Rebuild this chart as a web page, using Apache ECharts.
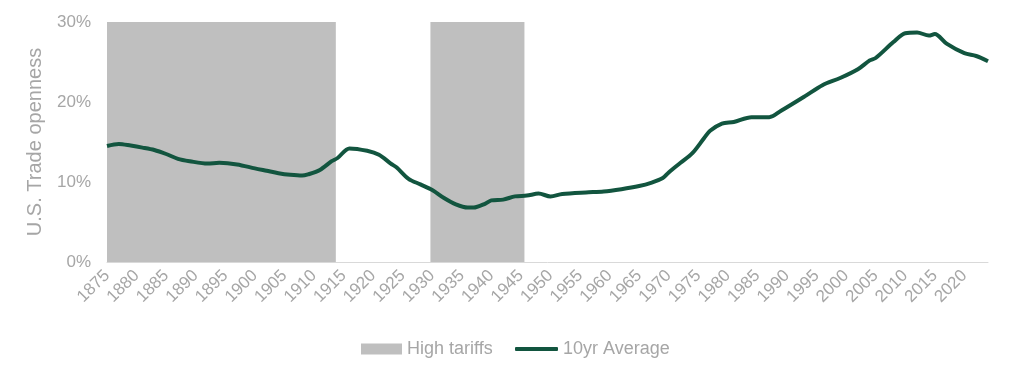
<!DOCTYPE html>
<html>
<head>
<meta charset="utf-8">
<script src="https://cdn.jsdelivr.net/npm/echarts@6/dist/echarts.min.js"></script>
<style>
  html, body { margin: 0; padding: 0; background: #fff; }
  #chart { width: 1024px; height: 375px; }
</style>
</head>
<body>
<div id="chart"></div>
<script>
// data
var years = [1875, 1877, 1879, 1881, 1883, 1885, 1887, 1889, 1892, 1894, 1897, 1900, 1902, 1904, 1906, 1908, 1909, 1911, 1913, 1914,
  1916, 1919, 1921, 1923, 1924, 1926, 1928, 1930, 1932, 1934, 1936, 1937, 1939, 1940, 1942, 1944, 1946, 1948, 1950, 1952,
  1956, 1959, 1962, 1965, 1967, 1969, 1970, 1972, 1974, 1976, 1977, 1979, 1981, 1984, 1987, 1989, 1993, 1996, 1999, 2002,
  2004, 2005, 2008, 2010, 2012, 2014, 2015, 2017, 2020, 2022, 2024];
var avg10yr = [14.5, 14.75, 14.55, 14.3, 14.0, 13.5, 12.9, 12.6, 12.3, 12.4, 12.2, 11.7, 11.4, 11.1, 10.9, 10.8, 10.95, 11.5, 12.6, 13.0,
  14.2, 13.9, 13.4, 12.3, 11.8, 10.4, 9.7, 9.0, 8.0, 7.2, 6.8, 6.8, 7.3, 7.7, 7.8, 8.2, 8.3, 8.55, 8.2, 8.5,
  8.7, 8.8, 9.1, 9.5, 9.9, 10.5, 11.2, 12.4, 13.6, 15.5, 16.4, 17.3, 17.5, 18.1, 18.1, 18.9, 20.7, 22.1, 23.0, 24.1,
  25.2, 25.5, 27.5, 28.6, 28.7, 28.3, 28.5, 27.3, 26.1, 25.75, 25.1];
var tariffPeriods = [[1875, 1913.7], [1929.7, 1945.6]];
var yTicks = [0, 10, 20, 30];

var grey = '#A6A6A6';
var green = '#12553F';
var font = 'Liberation Sans, Arial, sans-serif';

var chart = echarts.init(document.getElementById('chart'));
var lineData = years.map(function (y, i) { return [y, avg10yr[i]]; });
var areas = tariffPeriods.map(function (p) { return [{ xAxis: p[0] }, { xAxis: p[1] }]; });

var legendText = { color: grey, fontSize: 18, fontFamily: font };

var option = {
  backgroundColor: '#fff',
  animation: false,
  grid: { left: 107, right: 36, top: 22, bottom: 113 },
  legend: [
    {
      top: 335,
      left: 356,
      itemWidth: 41,
      itemHeight: 11,
      textStyle: legendText,
      data: [{ name: 'High tariffs', icon: 'rect' }]
    },
    {
      top: 335,
      left: 510,
      itemWidth: 43,
      itemHeight: 4,
      textStyle: legendText,
      data: [{ name: '10yr Average', icon: 'roundRect' }]
    }
  ],
  xAxis: {
    type: 'value',
    min: 1875,
    max: 2024,
    interval: 5,
    splitLine: { show: false },
    axisTick: { show: false },
    axisLine: { show: true, lineStyle: { color: '#D9D9D9', width: 1 } },
    axisLabel: {
      rotate: 45,
      margin: 11,
      color: grey,
      fontSize: 17,
      fontFamily: font,
      showMaxLabel: false,
      formatter: function (v) { return v % 5 === 0 ? String(v) : ''; }
    }
  },
  yAxis: {
    type: 'value',
    min: yTicks[0],
    max: yTicks[yTicks.length - 1],
    interval: 10,
    name: 'U.S. Trade openness',
    nameLocation: 'middle',
    nameGap: 62,
    nameTextStyle: { color: grey, fontSize: 20, fontFamily: font },
    splitLine: { show: false },
    axisLine: { show: false },
    axisTick: { show: false },
    axisLabel: { color: grey, fontSize: 17, fontFamily: font, margin: 16, formatter: '{value}%' }
  },
  series: [
    {
      name: 'High tariffs',
      type: 'line',
      data: [],
      z: 1,
      itemStyle: { color: '#BFBFBF' },
      lineStyle: { color: '#BFBFBF' },
      markArea: {
        silent: true,
        itemStyle: { color: '#BFBFBF', opacity: 1 },
        data: areas
      }
    },
    {
      name: '10yr Average',
      type: 'line',
      z: 5,
      data: lineData,
      smooth: 0.3,
      symbol: 'none',
      itemStyle: { color: green },
      lineStyle: { color: green, width: 4 }
    }
  ]
};
chart.setOption(option);
</script>
</body>
</html>
